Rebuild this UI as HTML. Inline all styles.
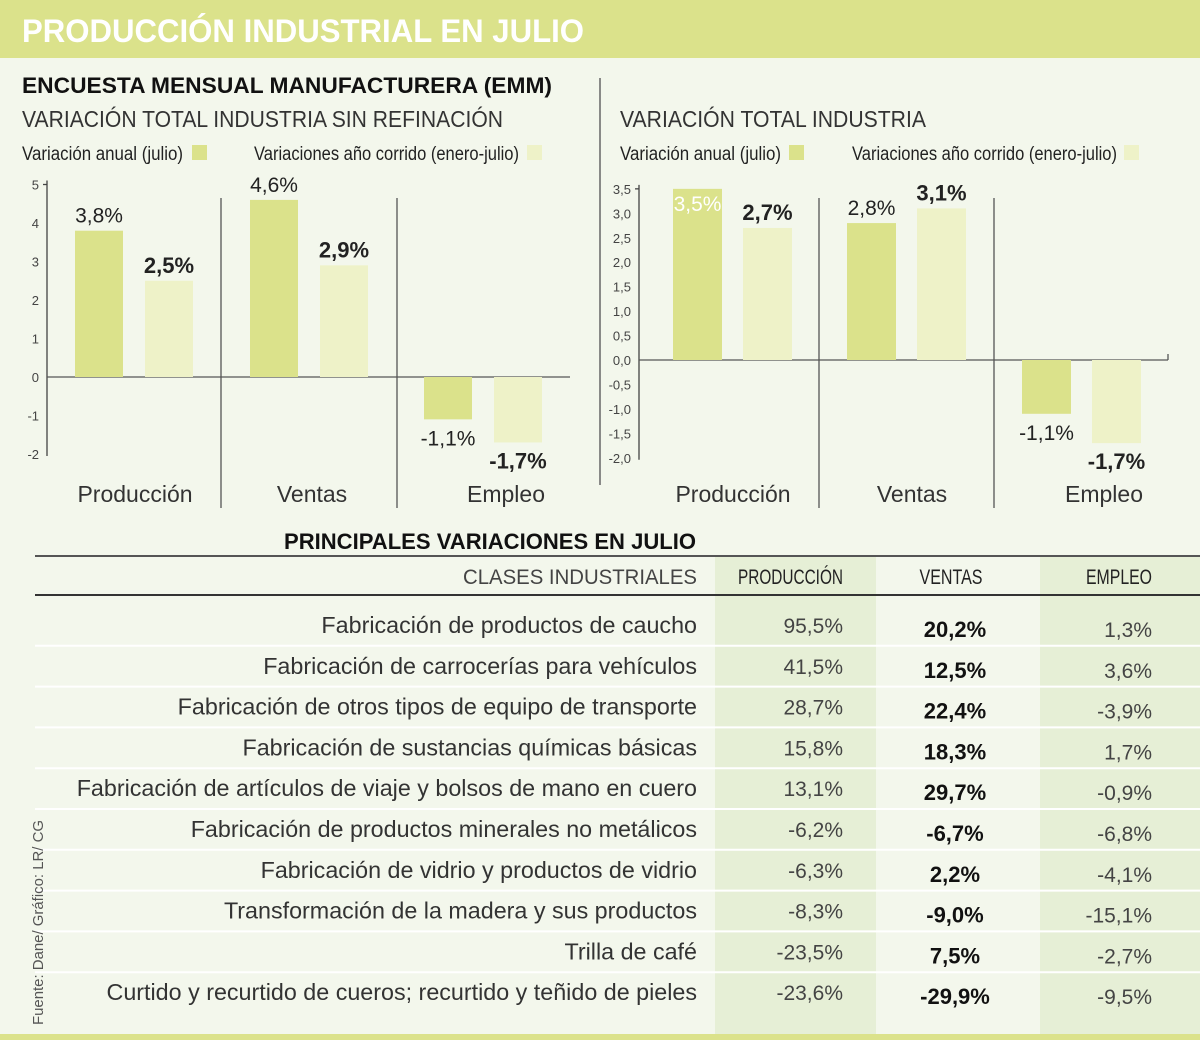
<!DOCTYPE html>
<html><head><meta charset="utf-8"><style>
html,body{margin:0;padding:0;background:#f3f7ec}
svg{display:block;font-family:"Liberation Sans",sans-serif}
</style></head><body>
<svg id="s" width="1200" height="1040" viewBox="0 0 1200 1040">
<rect x="0" y="0" width="1200" height="1040" fill="#f3f7ec"/>
<rect x="0" y="0" width="1200" height="58" fill="#dbe28b"/>
<text x="22" y="42" fill="#fff" font-weight="bold" font-size="32" textLength="562" lengthAdjust="spacingAndGlyphs">PRODUCCIÓN INDUSTRIAL EN JULIO</text>
<rect x="0" y="1034" width="1200" height="6" fill="#dbe28b"/>
<text x="22" y="93" font-weight="bold" font-size="22" fill="#111" textLength="530" lengthAdjust="spacingAndGlyphs">ENCUESTA MENSUAL MANUFACTURERA (EMM)</text>
<text x="22" y="127" font-size="23" fill="#333" textLength="481" lengthAdjust="spacingAndGlyphs">VARIACIÓN TOTAL INDUSTRIA SIN REFINACIÓN</text>
<text x="620" y="127" font-size="23" fill="#333" textLength="306" lengthAdjust="spacingAndGlyphs">VARIACIÓN TOTAL INDUSTRIA</text>
<line x1="600" y1="78" x2="600" y2="485" stroke="#666" stroke-width="1.5"/>
<g id="left"></g>
<g id="right"></g>
<g id="table"></g>
<text transform="translate(43,1025) rotate(-90)" font-size="15" fill="#555" textLength="205" lengthAdjust="spacingAndGlyphs">Fuente: Dane/ Gráfico: LR/ CG</text>
</svg>
<script>
const NS="http://www.w3.org/2000/svg";
const categories=["Producción","Ventas","Empleo"];
const leftAnnual=[3.8,4.6,-1.1];
const leftYtd=[2.5,2.9,-1.7];
const leftTicks=[5,4,3,2,1,0,-1,-2];
const rightAnnual=[3.5,2.8,-1.1];
const rightYtd=[2.7,3.1,-1.7];
const rightTicks=[3.5,3.0,2.5,2.0,1.5,1.0,0.5,0.0,-0.5,-1.0,-1.5,-2.0];
const rowLabels=["Fabricación de productos de caucho","Fabricación de carrocerías para vehículos","Fabricación de otros tipos de equipo de transporte","Fabricación de sustancias químicas básicas","Fabricación de artículos de viaje y bolsos de mano en cuero","Fabricación de productos minerales no metálicos","Fabricación de vidrio y productos de vidrio","Transformación de la madera y sus productos","Trilla de café","Curtido y recurtido de cueros; recurtido y teñido de pieles"];
const prodVals=[95.5,41.5,28.7,15.8,13.1,-6.2,-6.3,-8.3,-23.5,-23.6];
const ventVals=[20.2,12.5,22.4,18.3,29.7,-6.7,2.2,-9.0,7.5,-29.9];
const empVals=[1.3,3.6,-3.9,1.7,-0.9,-6.8,-4.1,-15.1,-2.7,-9.5];
const DARK="#dbe28b",LIGHT="#eef2c8";
function el(tag,attrs,parent,txt){const e=document.createElementNS(NS,tag);for(const k in attrs)e.setAttribute(k,attrs[k]);if(txt!==undefined)e.textContent=txt;parent.appendChild(e);return e;}
function fmt(v,d){return (v<0?"-":"")+Math.abs(v).toFixed(d).replace(".",",");}
function legend(g,x0,sq1,sq2){
 let t=el("text",{x:x0,y:160,"font-size":19,fill:"#222",textLength:161,lengthAdjust:"spacingAndGlyphs"},g,"Variación anual (julio)");
 
 let r=el("rect",{x:sq1,y:145,width:15,height:15,fill:DARK},g);
 
 t=el("text",{x:x0+232,y:160,"font-size":19,fill:"#222",textLength:265,lengthAdjust:"spacingAndGlyphs"},g,"Variaciones año corrido (enero-julio)");
 
 r=el("rect",{x:sq2,y:145,width:15,height:15,fill:LIGHT},g);
 
}
function chart(g,cfg){
 const y=v=>cfg.zeroY-v*cfg.unit;
 legend(g,cfg.legX,cfg.sq1,cfg.sq2);
 el("line",{x1:cfg.axisX,y1:y(cfg.ticks[0])-4,x2:cfg.axisX,y2:y(cfg.ticks[cfg.ticks.length-1])+2,stroke:"#444","stroke-width":1.3},g);
 cfg.ticks.forEach(t=>{
  const tx=el("text",{x:cfg.axisX-8,y:y(t)+5,"font-size":13,fill:"#444","text-anchor":"end"},g,cfg.dec?fmt(t,1):String(t));
  
 });
 el("line",{x1:cfg.axisX-4,y1:y(cfg.ticks[0]),x2:cfg.axisX,y2:y(cfg.ticks[0]),stroke:"#444","stroke-width":1.3},g);
 const zl=el("line",{x1:cfg.axisX,y1:y(0),x2:cfg.endX,y2:y(0),stroke:"#555","stroke-width":1.3},g);
 
 if(cfg.endTick)el("line",{x1:cfg.endX,y1:y(0)-6,x2:cfg.endX,y2:y(0),stroke:"#555","stroke-width":1.3},g);
 cfg.seps.forEach(sx=>{el("line",{x1:sx,y1:cfg.sepTop,x2:sx,y2:508,stroke:"#555","stroke-width":1.3},g);});
 categories.forEach((c,i)=>{
  const ct=el("text",{x:cfg.catX[i],y:502,"font-size":23,fill:"#333","text-anchor":"middle"},g,c);
  
  [[cfg.a[i],DARK,"normal",cfg.barX[i]],[cfg.b[i],LIGHT,"bold",cfg.barX[i]+cfg.gap]].forEach(([v,col,fw,bx],k)=>{
   const top=Math.min(y(0),y(v)),h=Math.abs(y(v)-y(0));
   const r=el("rect",{x:bx,y:top,width:cfg.bw,height:h,fill:col},g);
   
   let ly,fill="#222";
   if(v>=0){ly=y(v)-8;if(ly<cfg.minLabelY){ly=y(v)+22;fill="#fff";}}
   else ly=y(v)+26;
   const lt=el("text",{x:bx+cfg.bw/2,y:ly,"font-size":fw==="bold"?22:21,"font-weight":fw,fill:fill,"text-anchor":"middle"},g,fmt(v,1)+"%");
   
  });
 });
}
chart(document.getElementById("left"),{zeroY:377,unit:38.5,axisX:47,endX:570,ticks:leftTicks,dec:false,a:leftAnnual,b:leftYtd,barX:[75,250,424],gap:70,bw:48,seps:[221,397],sepTop:198,catX:[135,312,506],legX:22,sq1:192,sq2:527,minLabelY:170,endTick:false});
chart(document.getElementById("right"),{zeroY:360,unit:48.9,axisX:639,endX:1168,ticks:rightTicks,dec:true,a:rightAnnual,b:rightYtd,barX:[673,847,1022],gap:70,bw:49,seps:[819,994],sepTop:198,catX:[733,912,1104],legX:620,sq1:789,sq2:1124,minLabelY:185,endTick:true});
const tg=document.getElementById("table");
let r=el("rect",{x:715,y:556,width:161,height:478,fill:"#e6efd6"},tg);
r=el("rect",{x:1040,y:556,width:160,height:478,fill:"#e6efd6"},tg);
let t=el("text",{x:284,y:549,"font-size":22,"font-weight":"bold",fill:"#111",textLength:412,lengthAdjust:"spacingAndGlyphs"},tg,"PRINCIPALES VARIACIONES EN JULIO");

el("line",{x1:35,y1:556,x2:1200,y2:556,stroke:"#555","stroke-width":2},tg);
el("line",{x1:35,y1:595,x2:1200,y2:595,stroke:"#333","stroke-width":2},tg);
[["CLASES INDUSTRIALES",697,"end",234,"#444"],["PRODUCCIÓN",843,"end",105,"#222"],["VENTAS",951,"middle",63,"#222"],["EMPLEO",1152,"end",66,"#222"]].forEach(([s,x,a,w,c])=>{
 const h=el("text",{x:x,y:584,"font-size":21,fill:c,"text-anchor":a,textLength:w,lengthAdjust:"spacingAndGlyphs"},tg,s);
 
});
rowLabels.forEach((lab,i)=>{
 const by=633+i*40.8;
 if(i>0){const ln=el("line",{x1:35,y1:by-28,x2:1200,y2:by-28,stroke:"#fff","stroke-width":2},tg);}
 let tx=el("text",{x:697,y:by,"font-size":23.3,fill:"#333","text-anchor":"end"},tg,lab);
 
 tx=el("text",{x:843,y:by,"font-size":21,fill:"#444","text-anchor":"end"},tg,fmt(prodVals[i],1)+"%");
 
 tx=el("text",{x:955,y:by+4,"font-size":22,"font-weight":"bold",fill:"#111","text-anchor":"middle"},tg,fmt(ventVals[i],1)+"%");
 
 tx=el("text",{x:1152,y:by+4,"font-size":21,fill:"#444","text-anchor":"end"},tg,fmt(empVals[i],1)+"%");
 
});
</script>
</body></html>
